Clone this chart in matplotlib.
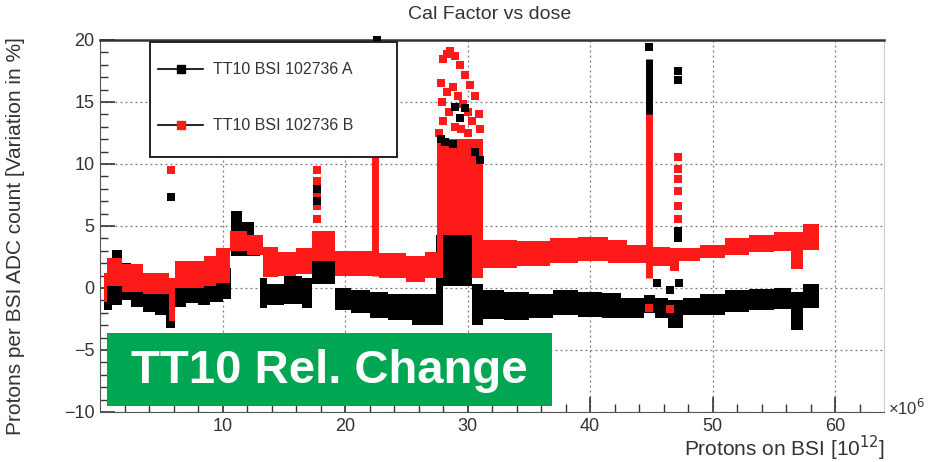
import matplotlib
matplotlib.use("Agg")
import matplotlib.pyplot as plt
from matplotlib.lines import Line2D
from matplotlib.patches import Rectangle
import numpy as np

plt.rcParams['font.family'] = ['Liberation Sans', 'DejaVu Sans']

# band of sensor A (black): step edges, lower and upper envelope
a_x = [0.3, 1.0, 1.8, 2.5, 3.5, 4.5, 5.4, 6.1, 7.0, 8.0, 9.0, 10.0, 10.7, 11.6,
       12.6, 13.1, 13.6, 15.0, 16.5, 17.3, 19.2, 20.5, 22.0, 23.5, 25.5, 27.4,
       28.0, 30.4, 31.3, 33.0, 35.0, 37.0, 39.0, 41.0, 42.5, 44.4, 45.3, 46.4,
       47.6, 49.0, 51.0, 53.0, 55.0, 56.4, 57.4, 58.7]
a_hi = [1.2, 3.1, 2.0, 1.5, 1.0, 0.5, 0.0, 0.2, 0.6, 0.7, 0.9, 1.6, 6.2, 5.3,
        3.5, 0.8, 0.3, 1.0, 0.8, 2.6, 0.0, -0.2, -0.3, -0.5, -0.5, 4.3,
        4.3, 0.3, -0.2, -0.3, -0.5, -0.2, -0.3, -0.4, -0.8, -0.6, -0.8, -1.0,
        -0.8, -0.5, -0.2, -0.1, 0.0, -0.3, 0.3, 0.3]
a_lo = [-1.8, -1.4, -1.0, -1.5, -1.9, -2.2, -3.2, -1.5, -1.2, -1.4, -1.1, -0.9, 2.6, 2.6,
        2.6, -1.6, -1.4, -1.3, -1.6, 0.3, -1.8, -2.0, -2.4, -2.6, -3.0, -3.0,
        0.2, -3.0, -2.5, -2.6, -2.4, -2.2, -2.3, -2.4, -2.4, -2.0, -2.4, -3.2,
        -2.2, -2.2, -1.9, -1.8, -1.7, -3.4, -1.6, -1.6]

# band of sensor B (red)
b_x = [0.3, 0.6, 1.8, 3.5, 5.6, 6.1, 8.5, 9.5, 10.6, 12.0, 13.3, 14.5, 16.0,
       17.3, 19.2, 22.8, 25.0, 26.5, 27.5, 31.3, 34.0, 36.7, 39.0, 41.5, 43.0,
       45.0, 46.5, 47.3, 49.0, 51.0, 53.0, 55.0, 56.4, 57.4, 58.7]
b_hi = [1.2, 2.4, 1.9, 1.2, 0.8, 2.2, 2.6, 3.2, 4.6, 4.3, 3.3, 2.9, 3.2,
        4.6, 3.0, 2.8, 2.6, 2.9, 12.0, 3.9, 3.8, 4.0, 4.1, 3.9, 3.5,
        3.3, 3.2, 3.2, 3.5, 4.0, 4.3, 4.5, 4.5, 5.2, 5.2]
b_lo = [-1.1, 0.2, -0.3, -0.5, -2.7, 0.0, 0.2, 0.4, 3.0, 2.7, 0.9, 1.0, 1.1,
        2.2, 1.0, 0.8, 0.5, 0.8, 0.8, 1.6, 1.8, 2.0, 2.2, 2.0, 2.0,
        1.8, 1.4, 2.2, 2.4, 2.7, 2.9, 3.0, 1.5, 3.1, 3.1]

# narrow vertical spikes: x position, bottom, top
a_spike_x = [44.8]
a_spike_lo = [13.1]
a_spike_hi = [18.5]
b_spike_x = [22.45, 44.8]
b_spike_lo = [1.0, 0.8]
b_spike_hi = [19.5, 14.0]

# block of A readings inside the high-dose burst (drawn over B)
a_burst_x = [28.0, 30.4]
a_burst_lo = [0.2, 0.2]
a_burst_hi = [4.3, 4.3]

# isolated readings
a_pts_x = [5.8, 17.7, 17.7, 22.6, 27.8, 28.2, 28.8, 29.0, 29.4, 29.8, 30.6, 31.0,
           44.8, 45.5, 46.5, 47.3, 47.2, 47.2, 47.2, 47.2]
a_pts_y = [7.3, 8.0, 7.0, 20.0, 12.0, 11.8, 11.6, 14.6, 13.7, 14.5, 11.0, 10.3,
           19.4, 0.4, -0.2, 0.4, 17.5, 16.8, 4.6, 4.0]
b_pts_x = [5.8, 17.7, 17.7, 17.7, 17.7, 17.7,
           27.7, 27.8, 27.9, 28.0, 28.0, 28.3, 28.3, 28.5, 28.6, 28.8, 29.0, 29.0,
           29.2, 29.4, 29.5, 29.6, 29.8, 30.0, 30.0, 30.2, 30.4, 30.5, 30.6, 30.9, 31.0,
           44.8, 46.5, 47.2, 47.2, 47.2, 47.2, 47.2, 47.2]
b_pts_y = [9.5, 9.5, 8.6, 7.6, 6.6, 5.6,
           12.5, 16.5, 15.0, 18.5, 13.5, 18.9, 15.8, 14.2, 19.1, 16.2, 18.7, 13.0,
           15.5, 18.0, 12.8, 14.8, 17.2, 14.2, 12.5, 16.4, 13.5, 11.6, 15.5, 14.0, 12.8,
           -1.6, -1.7, 10.6, 9.6, 8.8, 7.8, 6.6, 5.6]

RED = '#ff1a1a'
BLACK = '#000000'

fig = plt.figure(figsize=(9.46, 4.62), dpi=100)
ax = fig.add_axes([100 / 946, 1 - 412 / 462, 784 / 946, 372 / 462])

ax.fill_between(a_x, a_lo, a_hi, step='post', color=BLACK, lw=0, zorder=2)
ax.fill_between(b_x, b_lo, b_hi, step='post', color=RED, lw=0, zorder=3)
ax.fill_between(a_burst_x, a_burst_lo, a_burst_hi, step='post', color=BLACK, lw=0, zorder=4)
ax.vlines(a_spike_x, a_spike_lo, a_spike_hi, color=BLACK, lw=5, zorder=3)
ax.vlines(b_spike_x, b_spike_lo, b_spike_hi, color=RED, lw=5, zorder=4)
ax.scatter(b_pts_x, b_pts_y, marker='s', s=28, color=RED, lw=0, zorder=5)
ax.scatter(a_pts_x, a_pts_y, marker='s', s=28, color=BLACK, lw=0, zorder=6, clip_on=False)

ax.set_xlim(0, 64)
ax.set_ylim(-10, 20)
ax.set_xticks([10, 20, 30, 40, 50, 60])
ax.set_xticks(np.arange(2, 64, 2), minor=True)
ax.set_yticks([-10, -5, 0, 5, 10, 15, 20])
ax.set_yticks(np.arange(-10, 21, 1), minor=True)
ax.set_yticklabels(['\u221210', '\u22125', '0', '5', '10', '15', '20'])
ax.tick_params(which='major', direction='in', length=11, width=1.2, labelsize=13,
               labelcolor='#333333', color='#333333', pad=4)
ax.tick_params(which='minor', direction='in', length=6, width=1.0, color='#333333')
ax.grid(True, which='major', ls=(0, (1.5, 2.5)), color='#777777', lw=0.9, zorder=0)
ax.set_axisbelow(True)
for side in ['left', 'bottom']:
    ax.spines[side].set_color('#555555')
ax.spines['top'].set_color('#333333')
ax.spines['top'].set_linewidth(1.8)
ax.spines['right'].set_color('#cccccc')

# legend box
ax.add_patch(Rectangle((150 / 946, 1 - 157 / 462), 247 / 946, 115 / 462,
                       transform=fig.transFigure, facecolor='white', edgecolor='#222222',
                       lw=1.4, zorder=7))
handles = [Line2D([0], [0], color=BLACK, lw=1.2, marker='s', ms=6),
           Line2D([0], [0], color=BLACK, lw=1.2, marker='s', ms=6,
                  markerfacecolor=RED, markeredgecolor=RED)]
leg = ax.legend(handles, ['TT10 BSI 102736 A', 'TT10 BSI 102736 B'],
                loc='upper left', bbox_to_anchor=(144 / 946, 1 - 48 / 462),
                bbox_transform=fig.transFigure, frameon=False, fontsize=11.5,
                handlelength=2.8, handletextpad=0.6, labelspacing=2.55,
                labelcolor='#333333')
leg.set_zorder(8)

fig.text(490 / 946, 1 - 19 / 462, 'Cal Factor vs dose', ha='center', va='baseline',
         fontsize=14, color='#333333')
fig.text(16 / 946, 1 - 236 / 462, 'Protons per BSI ADC count [Variation in %]',
         rotation=90, ha='center', va='center', fontsize=15, color='#333333')
fig.text(885 / 946, 1 - 448 / 462, 'Protons on BSI [10$^{12}$]', ha='right',
         va='center', fontsize=15, color='#333333')
fig.text(888 / 946, 1 - 408 / 462, '\u00d710$^{6}$', ha='left', va='center',
         fontsize=12, color='#333333')

# overlay label
fig.patches.append(Rectangle((107 / 946, 1 - 406 / 462), 445 / 946, 73 / 462,
                             transform=fig.transFigure, facecolor='#00a651',
                             edgecolor='none', zorder=10))
fig.text(329 / 946, 1 - 371 / 462, 'TT10 Rel. Change', ha='center', va='center',
         fontsize=34, fontweight='bold', color='white', zorder=11)

fig.savefig('out.png', dpi=100)
